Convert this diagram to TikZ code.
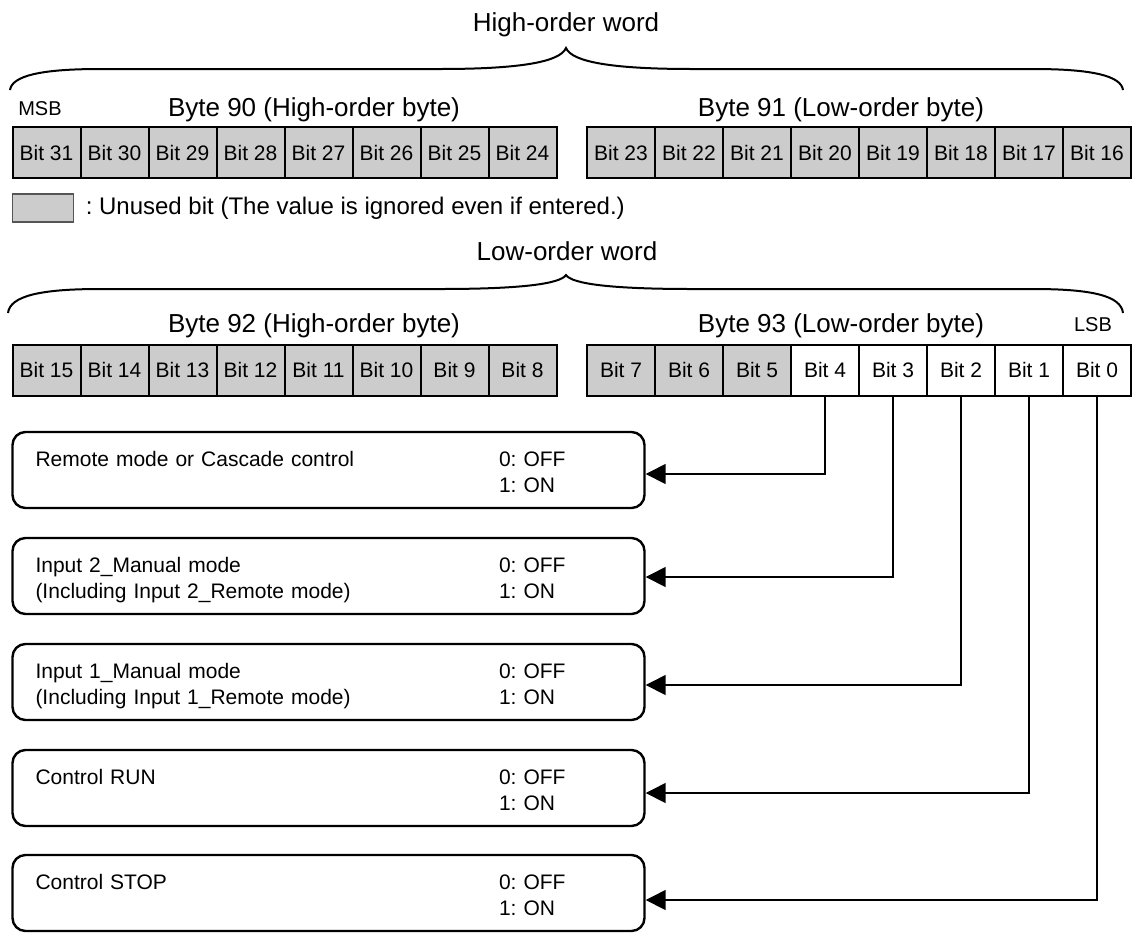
\documentclass[tikz,border=0pt]{standalone}
\usepackage{fontspec}
\setmainfont{Liberation Sans}
\usetikzlibrary{arrows.meta,positioning}
\frenchspacing
\definecolor{unusedgray}{HTML}{CCCCCC}
\definecolor{keyedge}{HTML}{555555}
\tikzset{
  >={Triangle[length=10pt,width=10pt]},
  cell/.style={draw,line width=1pt,minimum width=34pt,minimum height=25.5pt,inner sep=0pt,
               font=\fontsize{10.5}{12}\selectfont},
  unused/.style={cell,fill=unusedgray},
  used/.style={cell,fill=white},
  bytelabel/.style={inner sep=0pt,font=\fontsize{13}{15}\selectfont},
  endlabel/.style={inner sep=0pt,font=\fontsize{10}{12}\selectfont},
  wordbrace/.style={line width=1pt},
  fieldbox/.style={draw,line width=1.2pt,rounded corners=6.5pt,minimum width=316pt,minimum height=38pt,
                   text width=293pt,align=left,inner xsep=11.5pt,inner ysep=0pt,
                   text height=13pt,text depth=16.5pt,font=\fontsize{10.5}{13}\selectfont},
  bitline/.style={->,line width=0.75pt}
}
\newcommand{\onoff}[2]{\makebox[231.75pt][l]{#1}0: OFF\\\makebox[231.75pt][l]{#2}1: ON}

\begin{document}
\begin{tikzpicture}[x=0.5pt,y=-0.5pt]
  \useasboundingbox (0,0) rectangle (1133,932);
  % high-order word
  \node[bytelabel] (hiword) at (566,25) {High-order word};
  \draw[wordbrace] (10,90) .. controls (12,76) and (40,69) .. (100,69) -- (440,69)
    .. controls (520,69) and (560,62) .. (566,48) .. controls (572,62) and (612,69) .. (692,69)
    -- (1033,69) .. controls (1093,69) and (1121,76) .. (1123,90);
  \node[endlabel] (msb) at (40,108.5) {MSB};
  \node[bytelabel] (byte90) at (314,110) {Byte 90 (High-order byte)};
  \node[bytelabel] (byte91) at (841,110) {Byte 91 (Low-order byte)};
  \foreach \i in {0,...,7}{
    \pgfmathtruncatemacro{\hi}{31-\i}
    \pgfmathtruncatemacro{\lo}{23-\i}
    \node[unused] (b\hi) at (46.5+68*\i,152.5) {Bit \hi};
    \node[unused] (b\lo) at (621+68*\i,152.5) {Bit \lo};
  }
  % key
  \node[draw=keyedge,line width=0.6pt,fill=unusedgray,minimum width=30.5pt,minimum height=14pt,inner sep=0pt]
    (unusedkey) at (43.3,208) {};
  \node[inner sep=0pt,font=\fontsize{12}{14}\selectfont,right=5.5pt of unusedkey] (keytext)
    {: Unused bit (The value is ignored even if entered.)};
  % low-order word
  \node[bytelabel] (loword) at (567,251) {Low-order word};
  \draw[wordbrace] (8,313) .. controls (10,296) and (40,289) .. (100,289) -- (440,289)
    .. controls (520,289) and (560,284) .. (566,275) .. controls (572,284) and (612,289) .. (692,289)
    -- (1033,289) .. controls (1093,289) and (1121,296) .. (1123,313);
  \node[bytelabel] (byte92) at (314,326) {Byte 92 (High-order byte)};
  \node[bytelabel] (byte93) at (841,326) {Byte 93 (Low-order byte)};
  \node[endlabel] (lsb) at (1093,325) {LSB};
  \foreach \i in {0,...,7}{
    \pgfmathtruncatemacro{\hi}{15-\i}
    \node[unused] (b\hi) at (46.5+68*\i,370) {Bit \hi};
  }
  \foreach \i/\s in {0/unused,1/unused,2/unused,3/used,4/used,5/used,6/used,7/used}{
    \pgfmathtruncatemacro{\lo}{7-\i}
    \node[\s] (b\lo) at (621+68*\i,370) {Bit \lo};
  }
  % status fields
  \node[fieldbox] (remote) at (328.5,470) {\onoff{Remote mode or Cascade control}{}};
  \node[fieldbox] (intwo) at (328.5,576) {\onoff{Input 2\_Manual mode}{(Including Input 2\_Remote mode)}};
  \node[fieldbox] (inone) at (328.5,682) {\onoff{Input 1\_Manual mode}{(Including Input 1\_Remote mode)}};
  \node[fieldbox] (ctlrun) at (328.5,788) {\onoff{Control RUN}{}};
  \node[fieldbox] (ctlstop) at (328.5,893) {\onoff{Control STOP}{}};
  \draw[bitline] (b4.south) |- ([yshift=-2pt]remote.east);
  \draw[bitline] (b3.south) |- ([yshift=-0.5pt]intwo.east);
  \draw[bitline] (b2.south) |- ([yshift=-1.5pt]inone.east);
  \draw[bitline] (b1.south) |- ([yshift=-2.5pt]ctlrun.east);
  \draw[bitline] (b0.south) |- ([yshift=-3.5pt]ctlstop.east);
\end{tikzpicture}
\end{document}
